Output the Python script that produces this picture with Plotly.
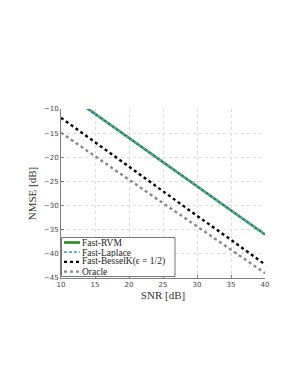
import plotly.graph_objects as go

snr = [10, 15, 20, 25, 30, 35, 40]
fast_rvm = [-6.0, -11.0, -16.0, -21.0, -26.0, -31.0, -36.0]
fast_laplace = [-6.0, -11.0, -16.0, -21.0, -26.0, -31.0, -36.0]
fast_besselk = [-11.8, -16.9, -22.0, -27.0, -32.1, -37.1, -42.2]
oracle = [-14.9, -19.8, -24.6, -29.5, -34.3, -39.2, -44.0]

names = ["Fast-RVM", "Fast-Laplace", "Fast-BesselK(\u03f5 = 1/2)", "Oracle"]
styles = [
    dict(color="#2a8a1e", width=2.6),
    dict(color="#4aa3f0", width=1.8, dash="3px,2px"),
    dict(color="black", width=2.4, dash="dot"),
    dict(color="#888888", width=2.4, dash="dot"),
]
series = [fast_rvm, fast_laplace, fast_besselk, oracle]

fig = go.Figure()
for nm, ys, st in zip(names, series, styles):
    fig.add_trace(go.Scatter(x=snr, y=ys, mode="lines", name=nm, line=st))

serif = "Liberation Serif"
L, R, T, B = 53, 257, 101, 270
W, H = R - L, B - T
def px(x):
    return (x - L) / W
def py(y):
    return (B - y) / H

shapes = [dict(type="rect", xref="paper", yref="paper",
               x0=px(53.5), x1=px(167), y0=py(268.5), y1=py(229.5),
               line=dict(color="#777777", width=1), fillcolor="white", layer="above")]
annotations = []
rows = [234.5, 244.2, 253.9, 263.6]
for nm, st, yy in zip(names, styles, rows):
    shapes.append(dict(type="line", xref="paper", yref="paper",
                       x0=px(56), x1=px(72), y0=py(yy), y1=py(yy),
                       line=st, layer="above"))
    annotations.append(dict(xref="paper", yref="paper", x=px(73), y=py(yy),
                            xanchor="left", yanchor="middle", showarrow=False,
                            height=9, borderpad=0, valign="middle",
                            text=nm, font=dict(family=serif, size=9.5, color="#222222")))

fig.update_layout(
    width=291, height=376,
    margin=dict(l=L, r=291 - R, t=T, b=376 - B),
    paper_bgcolor="white", plot_bgcolor="white",
    showlegend=False,
    shapes=shapes, annotations=annotations,
)
fig.update_xaxes(range=[10, 40], tickvals=[10, 15, 20, 25, 30, 35, 40],
                 showgrid=True, gridcolor="#dcdcdc", griddash="dot", gridwidth=1,
                 showline=True, linecolor="#808080", linewidth=1,
                 ticks="inside", ticklen=3, tickcolor="#808080",
                 tickfont=dict(family="DejaVu Sans", size=7, color="#444444"),
                 title=dict(text="SNR [dB]", font=dict(family=serif, size=11, color="#333333"),
                            standoff=2),
                 zeroline=False)
fig.update_yaxes(range=[-45, -10], tickvals=[-10, -15, -20, -25, -30, -35, -40, -45],
                 ticktext=["\u221210", "\u221215", "\u221220", "\u221225", "\u221230",
                           "\u221235", "\u221240", "\u221245"],
                 showgrid=True, gridcolor="#dcdcdc", griddash="dot", gridwidth=1,
                 showline=True, linecolor="#808080", linewidth=1,
                 ticks="inside", ticklen=3, tickcolor="#808080",
                 tickfont=dict(family="DejaVu Sans", size=7, color="#444444"),
                 title=dict(text="NMSE [dB]", font=dict(family=serif, size=11, color="#333333"),
                            standoff=4),
                 zeroline=False)

fig.write_html("out.html")
